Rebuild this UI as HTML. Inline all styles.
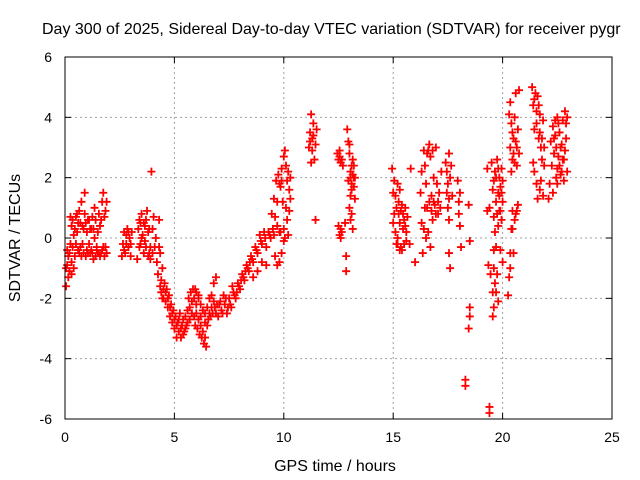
<!DOCTYPE html>
<html><head><meta charset="utf-8"><style>
html,body{margin:0;padding:0;background:#fff;}
svg{display:block;font-family:"Liberation Sans",sans-serif;}
</style></head><body>
<svg id="chart" width="640" height="480" viewBox="0 0 640 480" xmlns="http://www.w3.org/2000/svg">
<rect width="640" height="480" fill="#fff"/>
<text x="42" y="34" font-size="16" fill="#000">Day 300 of 2025, Sidereal Day-to-day VTEC variation (SDTVAR) for receiver pygr</text>
<text transform="translate(20,238) rotate(-90)" text-anchor="middle" font-size="16">SDTVAR / TECUs</text>
<text x="335" y="471" text-anchor="middle" font-size="16">GPS time / hours</text>
<g id="grid"></g>
<g id="marks"></g>
<rect x="65" y="57" width="547" height="362" fill="none" stroke="#000" stroke-width="1"/>
<g id="ticks"></g>
</svg>
<script>
const xTicks=[0,5,10,15,20,25];
const yTicks=[-6,-4,-2,0,2,4,6];
const points=[
[0.05,-1.6],[0.1,-0.9],[0.15,-1.3],[0.2,-1.1],[0.25,-0.2],[0.3,0.4],[0.35,0.6],[0.4,-1.0],[0.45,-0.6],[0.5,0.7],[0.55,0.2],[0.6,-0.4],[0.65,0.9],[0.7,0.5],[0.75,1.2],[0.8,0.4],[0.85,-0.5],[0.9,1.5],[0.95,-0.6],[1.0,-0.4],[1.05,0.6],[1.1,-0.2],[1.15,-0.5],[1.2,0.3],[1.25,0.7],[1.3,-0.7],[1.35,1.0],[1.4,0.6],[1.45,-0.4],[1.5,0.2],[1.55,0.8],[1.6,-0.6],[1.65,-0.5],[1.7,1.2],[1.75,1.5],[1.8,0.7],[1.85,-0.3],[1.9,-0.5],
[0.05,-1.0],[0.15,-0.6],[0.25,0.7],[0.35,-0.3],[0.45,0.3],[0.55,0.8],[0.65,-0.5],[0.75,-0.6],[0.85,0.3],[0.95,0.5],[1.05,-0.5],[1.15,0.3],[1.25,-0.5],[1.35,0.0],[1.45,-0.3],[1.55,-0.5],[1.65,0.6],[1.75,-0.3],[1.85,0.9],
[0.2,-0.5],[0.3,-0.8],[0.4,0.1],[0.5,-0.2],[0.6,0.5],[0.7,-0.3],[0.8,-0.2],[0.9,0.8],[1.0,0.2],[1.1,0.6],[1.2,-0.4],[1.3,0.3],[1.4,-0.6],[1.5,-0.5],[1.6,0.4],[1.7,-0.4],[1.8,-0.6],[1.9,1.2],[0.1,-0.4],[0.3,-1.2],
[2.6,-0.6],[2.65,-0.2],[2.7,0.2],[2.75,-0.5],[2.8,0.1],[2.85,0.3],[2.9,-0.3],[2.95,0.0],[3.0,-0.6],[3.05,0.2],[2.7,-0.4],[2.8,-0.2],[2.9,0.2],[3.0,-0.2],
[3.3,-0.7],[3.35,0.3],[3.4,0.6],[3.45,-0.2],[3.5,0.8],[3.55,0.1],[3.6,-0.5],[3.65,0.4],[3.7,-0.3],[3.75,0.9],[3.8,0.2],[3.85,-0.5],[3.9,-0.7],[3.95,2.2],[4.0,0.3],[4.05,0.7],[4.1,-0.3],[4.15,0.0],[4.2,-0.8],
[3.4,-0.3],[3.5,0.0],[3.6,0.5],[3.7,0.6],[3.8,-0.6],[3.9,-0.3],[4.0,-0.5],[3.45,0.5],[3.65,-0.1],[3.85,0.3],
[4.25,-1.2],[4.3,0.6],[4.35,-0.5],[4.4,-1.8],[4.45,-1.0],[4.5,-2.0],[4.55,-1.5],[4.6,-2.1],[4.65,-1.7],[4.7,-2.3],[4.75,-1.9],[4.8,-2.6],[4.85,-2.2],[4.9,-2.8],[4.95,-2.4],[5.0,-3.0],[5.05,-2.6],
[4.3,-0.3],[4.4,-1.4],[4.5,-1.7],[4.6,-1.8],[4.7,-2.0],[4.8,-2.3],[4.9,-2.5],[5.0,-2.7],[4.35,-1.6],[4.45,-2.0],
[5.1,-3.3],[5.15,-2.8],[5.2,-3.1],[5.25,-2.5],[5.3,-3.3],[5.35,-2.9],[5.4,-2.7],[5.45,-3.1],[5.5,-2.6],[5.55,-2.9],[5.6,-2.4],[5.65,-2.0],[5.7,-2.7],[5.75,-1.8],[5.8,-2.5],[5.85,-1.7],[5.9,-2.6],[5.95,-2.9],[6.0,-1.8],[6.05,-3.0],[6.1,-2.0],[6.15,-3.2],[6.2,-2.2],[6.25,-3.3],[6.3,-2.4],[6.35,-3.5],[6.4,-2.5],[6.45,-3.6],[6.5,-2.3],[6.55,-2.7],[6.6,-2.0],[6.65,-2.6],[6.7,-1.9],[6.75,-2.5],[6.8,-1.5],[6.85,-2.3],[6.9,-1.3],[6.95,-2.2],
[5.1,-2.9],[5.2,-2.7],[5.3,-3.0],[5.4,-3.2],[5.5,-3.0],[5.6,-2.8],[5.7,-2.3],[5.8,-2.1],[5.9,-2.0],[6.0,-2.5],[6.1,-2.7],[6.2,-2.9],[6.3,-3.1],[6.4,-3.3],[6.5,-2.9],[6.6,-2.5],[6.7,-2.3],[6.8,-2.1],[6.9,-2.5],[6.0,-2.2],[6.2,-2.6],[6.4,-2.8],[5.95,-1.7],[6.1,-1.9],
[7.0,-2.6],[7.1,-2.1],[7.2,-2.5],[7.3,-2.2],[7.4,-2.5],[7.5,-2.0],[7.6,-2.3],[7.7,-1.8],[7.8,-2.0],[7.9,-1.5],[8.0,-1.7],[8.1,-1.2],[8.2,-1.4],[8.3,-0.9],[8.4,-1.1],[8.5,-0.6],[8.6,-0.8],[8.7,-0.3],[8.8,-0.5],[8.9,0.1],[9.0,-0.2],[9.1,0.2],[9.2,-0.3],[9.3,0.2],[9.4,0.0],[9.5,0.3],[9.6,0.7],[9.7,1.2],[9.8,1.8],[9.9,2.3],[10.0,2.7],[10.05,2.9],[10.1,2.4],[9.45,0.8],[9.55,1.3],[9.65,1.9],[9.75,2.1],[9.85,1.7],[10.15,1.9],[9.6,-0.6],[9.7,-0.9],[9.8,-0.8],[9.9,-0.5],[10.0,0.3],[10.1,1.0],[10.15,0.6],[10.2,0.1],[10.25,0.9],[10.3,1.3],[10.3,2.0],[10.0,-0.1],[9.95,1.2],
[8.6,-1.3],[8.8,-1.1],[9.0,-0.8],[9.2,-0.9],[7.05,-2.2],[7.25,-1.9],[7.45,-2.3],[7.65,-1.6],[7.85,-1.8],[8.05,-1.4],[8.25,-1.1],[8.45,-0.8],
[7.15,-2.4],[7.35,-2.0],[7.55,-2.2],[7.75,-1.9],[7.95,-1.6],[8.15,-1.3],[8.35,-1.0],[8.55,-0.7],[8.75,-0.4],[8.95,-0.1],[9.15,0.0],[9.35,0.1],[9.55,0.1],[9.85,0.2],[10.05,0.0],[10.25,1.6],[10.2,2.2],[9.9,1.9],[9.7,0.4],[9.8,0.2],
[11.15,3.0],[11.2,3.5],[11.25,4.1],[11.3,3.3],[11.35,3.8],[11.4,2.6],[11.45,3.1],[11.5,3.6],[11.45,0.6],[11.25,2.5],[11.2,3.2],[11.3,2.9],[11.35,3.4],
[12.45,2.8],[12.5,2.6],[12.55,2.9],[12.6,2.5],[12.5,0.4],[12.55,0.1],[12.6,0.3],[12.65,0.2],[12.7,2.4],[12.8,0.5],[12.85,-0.6],[12.85,-1.1],[12.9,3.6],[12.95,3.2],[13.0,2.8],[13.05,2.2],[13.1,1.6],[13.15,2.6],[13.2,2.0],[13.25,1.3],[13.0,1.0],[13.05,0.6],[13.1,0.8],[13.15,0.3],[13.2,2.4],[12.95,1.9],[13.0,3.1],[13.1,1.8],[13.2,1.7],
[12.55,2.7],[12.65,2.6],[12.6,0.0],[13.05,2.0],[13.15,2.1],[13.25,2.0],[13.05,1.4],[13.1,2.4],
[14.95,2.3],[15.0,1.5],[15.05,0.8],[15.1,0.2],[15.15,-0.2],[15.2,1.8],[15.25,1.2],[15.3,0.5],[15.35,-0.3],[15.4,1.1],[15.45,0.3],[15.5,-0.2],[15.55,1.0],[15.6,0.2],[15.65,0.7],[15.0,0.5],[15.1,1.4],[15.3,1.6],[15.5,0.6],[15.2,0.0],[15.4,-0.4],[15.8,2.3],[15.75,-0.2],[16.0,-0.8],
[15.05,1.9],[15.15,1.0],[15.25,0.8],[15.35,0.9],[15.45,0.8],[15.55,0.4],[15.6,-0.1],[15.3,-0.4],[15.2,-0.2],
[16.25,1.5],[16.3,0.5],[16.35,-0.5],[16.4,2.9],[16.45,2.4],[16.5,1.8],[16.55,1.0],[16.6,0.2],[16.65,3.1],[16.7,2.7],[16.75,1.4],[16.8,0.6],[16.85,2.0],[16.9,1.1],[16.95,3.0],[17.0,1.8],[17.05,0.8],[17.1,1.5],[17.15,1.0],[17.2,2.2],[16.5,0.0],[16.7,-0.3],[16.3,2.2],
[16.45,1.0],[16.55,2.8],[16.65,1.2],[16.75,0.9],[16.85,1.2],[16.95,0.8],[17.05,1.2],[16.6,2.9],[16.8,2.9],[16.4,0.3],
[17.4,2.5],[17.45,2.2],[17.5,1.8],[17.55,2.8],[17.6,2.0],[17.5,1.0],[17.55,0.6],[17.6,-1.0],[17.55,-0.5],[17.65,2.4],[17.7,1.4],[17.45,1.5],[17.55,1.3],
[17.95,1.9],[18.0,1.2],[18.05,0.4],[18.1,-0.3],[18.05,1.5],[18.0,0.8],[18.5,-0.1],[18.45,1.1],[18.3,-4.7],[18.3,-4.9],[18.5,-2.3],[18.5,-2.6],[18.45,-3.0],
[19.4,-5.6],[19.4,-5.8],[19.3,2.3],[19.35,-0.9],[19.3,0.9],[19.4,1.0],[19.45,-1.2],
[19.5,2.5],[19.55,1.6],[19.6,0.7],[19.6,-0.4],[19.55,-1.8],[19.55,-2.6],[19.6,-2.3],[19.65,-1.5],[19.65,2.2],[19.7,1.2],[19.7,-0.3],[19.75,-1.2],[19.75,2.6],[19.8,1.5],[19.8,0.4],[19.85,2.0],[19.85,0.9],[19.9,1.7],[19.9,-0.4],[19.95,0.6],[19.95,2.3],[20.0,-0.8],[20.0,1.2],[19.8,-2.1],
[19.6,1.9],[19.65,0.2],[19.7,2.0],[19.75,0.8],[19.8,2.3],[19.85,1.4],[19.9,0.9],[19.95,1.5],[20.0,1.9],[19.6,-1.0],[19.7,-1.8],
[20.25,-1.9],[20.3,-1.3],[20.35,-0.5],[20.4,0.3],[20.45,0.9],[20.3,4.1],[20.35,3.0],[20.4,2.2],[20.35,4.5],[20.45,3.5],[20.5,2.8],[20.55,4.0],[20.6,3.2],[20.65,2.4],[20.6,4.8],[20.7,3.6],[20.7,1.1],[20.75,4.9],[20.75,2.8],[20.6,0.8],[20.5,-0.5],
[20.4,3.8],[20.45,2.6],[20.5,3.3],[20.55,2.5],[20.65,3.0],[20.35,-1.0],[20.45,0.3],[20.55,0.6],[20.65,0.9],
[21.35,5.0],[21.4,4.4],[21.45,3.6],[21.5,4.8],[21.55,4.2],[21.6,4.7],[21.65,3.3],[21.7,4.1],[21.75,3.0],[21.8,2.6],[21.85,3.9],[21.9,2.4],[21.75,1.9],[21.85,1.4],[21.4,2.5],[21.45,2.2],[21.55,1.8],[21.6,1.3],[21.7,1.6],
[21.45,4.6],[21.55,3.8],[21.65,4.4],[21.7,3.5],[21.8,3.3],[21.9,3.0],
[22.1,1.3],[22.15,1.8],[22.2,3.2],[22.25,2.4],[22.3,3.7],[22.35,2.8],[22.4,3.4],[22.45,2.0],[22.5,4.0],[22.55,2.7],[22.6,3.5],[22.65,2.1],[22.7,3.1],[22.75,3.9],[22.8,2.6],[22.85,4.2],[22.9,3.3],[22.95,2.2],[22.3,1.5],[22.5,1.8],[22.7,2.2],[22.8,1.9],[22.4,3.9],
[22.35,3.3],[22.45,3.0],[22.55,3.8],[22.65,3.0],[22.75,2.6],[22.85,2.9],[22.9,3.8],[22.95,4.0],[22.6,2.4],[22.5,2.3]
];
const L=65,R=612,T=57,B=419,xMin=0,xMax=25,yMin=-6,yMax=6;
function xs(v){return L+(v-xMin)/(xMax-xMin)*(R-L);}
function ys(v){return B-(v-yMin)/(yMax-yMin)*(B-T);}
const NS='http://www.w3.org/2000/svg';
const grid=document.getElementById('grid'),ticks=document.getElementById('ticks'),marks=document.getElementById('marks');
function mk(tag,attrs,parent){const e=document.createElementNS(NS,tag);for(const k in attrs)e.setAttribute(k,attrs[k]);parent.appendChild(e);return e;}
xTicks.forEach(t=>{
  const x=xs(t);
  if(t>xMin&&t<xMax){const g=mk('line',{x1:x,x2:x,y1:T,y2:B,stroke:'#a0a0a0','stroke-dasharray':'2,3'},grid);
  
  }
  const a=mk('line',{x1:x,x2:x,y1:B,y2:B-6,stroke:'#000'},ticks);
  
  
  const b=mk('line',{x1:x,x2:x,y1:T,y2:T+6,stroke:'#000'},ticks);
  
  
  const l=mk('text',{x:x,y:442,'text-anchor':'middle','font-size':'14'},ticks);
  l.textContent=t;
  
  
});
yTicks.forEach(t=>{
  const y=ys(t);
  if(t>yMin&&t<yMax){const g=mk('line',{x1:L,x2:R,y1:y,y2:y,stroke:'#a0a0a0','stroke-dasharray':'2,3'},grid);
  
  }
  const a=mk('line',{x1:L,x2:L+6,y1:y,y2:y,stroke:'#000'},ticks);
  
  
  const b=mk('line',{x1:R,x2:R-6,y1:y,y2:y,stroke:'#000'},ticks);
  
  
  const l=mk('text',{x:52,y:y+5,'text-anchor':'end','font-size':'14'},ticks);
  l.textContent=t;
  
  
});
let d='';
points.forEach(p=>{const x=xs(p[0]),y=ys(p[1]);d+='M'+(x-4)+' '+y+'h8M'+x+' '+(y-4)+'v8';});
const path=mk('path',{d:d,stroke:'#ff0000','stroke-width':'1.8',fill:'none'},marks);


</script>
</body></html>
